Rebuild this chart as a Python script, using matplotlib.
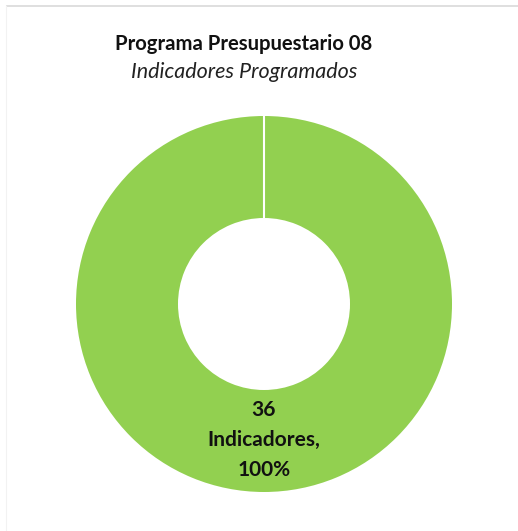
import matplotlib
matplotlib.use("Agg")
import matplotlib.pyplot as plt
from matplotlib.lines import Line2D
import numpy as np

categories = ["Indicadores"]
values = [36]
colors = ["#92D050"]
title = "Programa Presupuestario 08"
subtitle = "Indicadores Programados"

W, H = 518, 531
fig = plt.figure(figsize=(W / 100, H / 100), dpi=100)
fig.patch.set_facecolor("white")

# faint frame lines
fig.add_artist(Line2D([7 / W, 1], [1 - 6 / H, 1 - 6 / H], color="#d9d9d9", lw=1.2))
fig.add_artist(Line2D([6 / W, 6 / W], [0, 1 - 6 / H], color="#f2f2f2", lw=0.8))

cx, cy, r = 264, 304, 188
ax = fig.add_axes([(cx - r) / W, (H - cy - r) / H, 2 * r / W, 2 * r / H])
total = sum(values)
ring_width = 1 - 86 / 188
wedges, _ = ax.pie(values, colors=colors, startangle=90, counterclock=False, radius=1,
                   wedgeprops=dict(width=ring_width, edgecolor="none"))
# white separators at wedge boundaries
for w in wedges:
    th = np.deg2rad(w.theta1)
    ax.plot([(1 - ring_width) * np.cos(th), np.cos(th)],
            [(1 - ring_width) * np.sin(th), np.sin(th)], color="white", lw=1.5,
            solid_capstyle="butt")
ax.set_xlim(-1, 1)
ax.set_ylim(-1, 1)
ax.set_aspect("equal")
ax.axis("off")

fam = ["Lato", "DejaVu Sans"]
for cat, v in zip(categories, values):
    pct = v / total * 100
    ax.text(0, -0.723, f"{v}\n{cat},\n{pct:.0f}%", ha="center", va="center",
            fontsize=15, fontweight="bold", family=fam,
            color="#111111", linespacing=1.62)

fig.text(244 / W, 1 - 44 / H, title, ha="center", va="center", fontsize=14.6,
         fontweight="bold", family=fam, color="#111111")
fig.text(244 / W, 1 - 72 / H, subtitle, ha="center", va="center", fontsize=15.5,
         style="italic", family=fam, color="#222222")

fig.savefig("out.png", dpi=100, facecolor="white")
